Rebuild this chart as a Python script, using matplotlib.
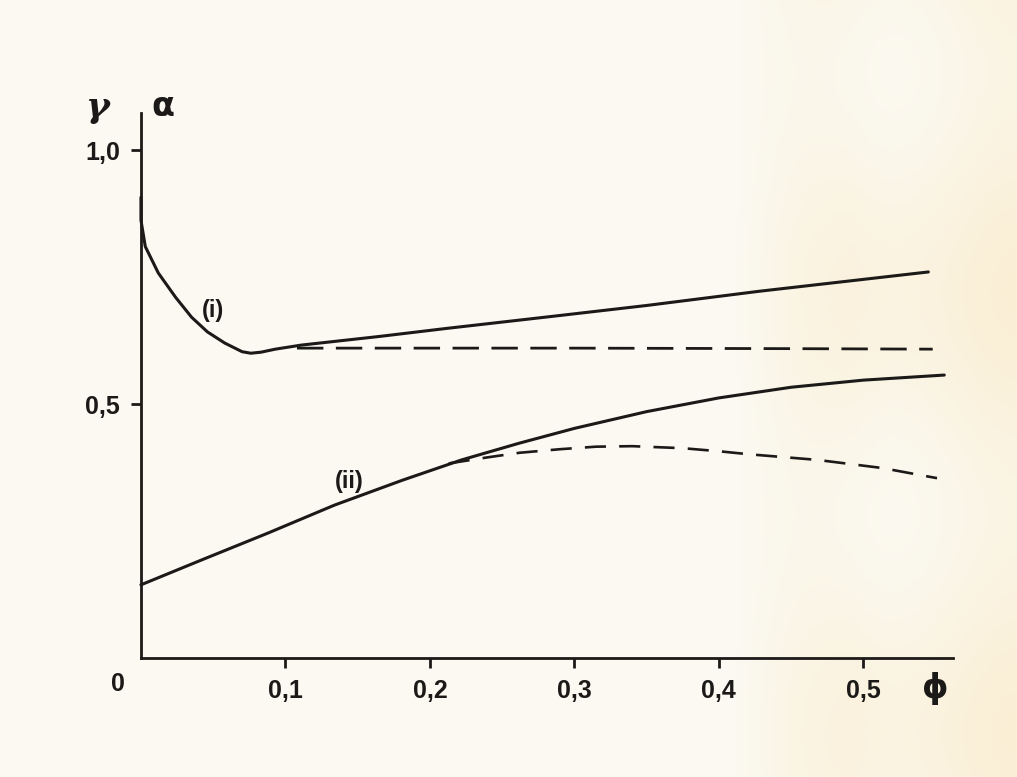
import numpy as np
import matplotlib
matplotlib.use("Agg")
import matplotlib.pyplot as plt

# ---------------------------------------------------
# Data
# ---------------------------------------------------
# curve (i): gamma vs phi, solid
phi_i = [0.0, 0.0, 0.003, 0.012, 0.024, 0.035, 0.046, 0.058, 0.070, 0.076,
         0.083, 0.093, 0.111, 0.165, 0.212, 0.283, 0.35, 0.428, 0.545]
gamma_i = [0.907, 0.862, 0.81, 0.758, 0.71, 0.671, 0.642, 0.62, 0.603, 0.600,
           0.602, 0.608, 0.616, 0.633, 0.649, 0.672, 0.694, 0.722, 0.76]

# curve (i) dashed
phi_i_dash = [0.108, 0.30, 0.45, 0.548]
gamma_i_dash = [0.61, 0.61, 0.609, 0.608]

# curve (ii): alpha vs phi, solid
phi_ii = [0.0, 0.042, 0.088, 0.134, 0.181, 0.222, 0.262, 0.30, 0.35, 0.40,
          0.45, 0.50, 0.556]
alpha_ii = [0.144, 0.193, 0.246, 0.301, 0.35, 0.39, 0.423, 0.452, 0.485, 0.512,
            0.533, 0.547, 0.557]

# curve (ii) dashed
phi_ii_dash = [0.213, 0.24, 0.262, 0.29, 0.315, 0.34, 0.375, 0.40, 0.421,
               0.468, 0.513, 0.551]
alpha_ii_dash = [0.383, 0.395, 0.404, 0.411, 0.416, 0.417, 0.413, 0.407, 0.401,
                 0.39, 0.374, 0.354]

x_ticks = [0.1, 0.2, 0.3, 0.4, 0.5]
x_tick_labels = ["0,1", "0,2", "0,3", "0,4", "0,5"]
y_ticks = [0.5, 1.0]
y_tick_labels = ["0,5", "1,0"]

FONT = ["Liberation Sans", "DejaVu Sans"]
INK = "#1c1a18"

fig = plt.figure(figsize=(10.17, 7.77), dpi=100)
fig.patch.set_facecolor("#fbf9f1")

# faint yellowish stain on the right side of the paper
bg = fig.add_axes([0, 0, 1, 1], zorder=-10)
xx = np.linspace(0, 1, 300)
yy = np.linspace(0, 1, 200)
X, Y = np.meshgrid(xx, yy)
stain = np.clip((X - 0.72) / 0.12, 0, 1) * (0.55 + 0.25 * np.sin(Y * 11 + 1.0)
                                           + 0.2 * np.cos(X * 25))
stain = np.clip(stain, 0, 1) * 0.45
base = np.array([0.985, 0.978, 0.950])
tint = np.array([0.975, 0.89, 0.70])
rgb = base * (1 - stain[..., None]) + tint * stain[..., None]
bg.imshow(rgb, extent=[0, 1, 0, 1], aspect="auto", origin="lower")
bg.axis("off")

ax = fig.add_axes([0.1386, 0.1532, 0.7984, 0.7014])
ax.set_facecolor("none")

ax.plot(phi_i, gamma_i, color=INK, linewidth=2.2, solid_capstyle="round",
        solid_joinstyle="round", clip_on=False)
ax.plot(phi_i_dash, gamma_i_dash, color=INK, linewidth=2.0, dashes=(9.5, 4.5))
ax.plot(phi_ii, alpha_ii, color=INK, linewidth=2.2, solid_capstyle="round",
        solid_joinstyle="round", clip_on=False)
ax.plot(phi_ii_dash, alpha_ii_dash, color=INK, linewidth=1.9, dashes=(8, 5))

ax.text(0.05, 0.685, "(i)", fontsize=17, fontweight="bold", family=FONT,
        color=INK, ha="center", va="center")
ax.text(0.144, 0.347, "(ii)", fontsize=17, fontweight="bold", family=FONT,
        color=INK, ha="center", va="center")

ax.set_xlim(0, 0.562)
ax.set_ylim(0, 1.073)

for side in ["top", "right"]:
    ax.spines[side].set_visible(False)
for side in ["left", "bottom"]:
    ax.spines[side].set_linewidth(2.0)
    ax.spines[side].set_color(INK)

ax.set_xticks(x_ticks)
ax.set_xticklabels(x_tick_labels)
ax.set_yticks(y_ticks)
ax.set_yticklabels(y_tick_labels)
ax.tick_params(axis="both", direction="out", length=7, width=2, color=INK,
               labelcolor=INK, labelsize=18, pad=8)
for lab in ax.get_xticklabels() + ax.get_yticklabels():
    lab.set_family(FONT)
    lab.set_fontweight("bold")

# origin and axis symbols
ax.text(-0.016, -0.028, "0", fontsize=18, fontweight="bold", family=FONT,
        color=INK, ha="center", va="top", clip_on=False)
ax.text(0.550, -0.028, "ϕ", fontsize=24, fontweight="bold", family=["DejaVu Sans"],
        color=INK, ha="center", va="top", clip_on=False)
ax.text(-0.03, 1.085, "γ", fontsize=26, fontweight="bold", family=["DejaVu Serif"],
        style="italic", color=INK, ha="center", va="center", clip_on=False)
ax.text(0.015, 1.085, "α", fontsize=24, fontweight="bold", family=["DejaVu Sans"],
        color=INK, ha="center", va="center", clip_on=False)

fig.savefig("out.png", dpi=100, facecolor=fig.get_facecolor())
plt.close(fig)
